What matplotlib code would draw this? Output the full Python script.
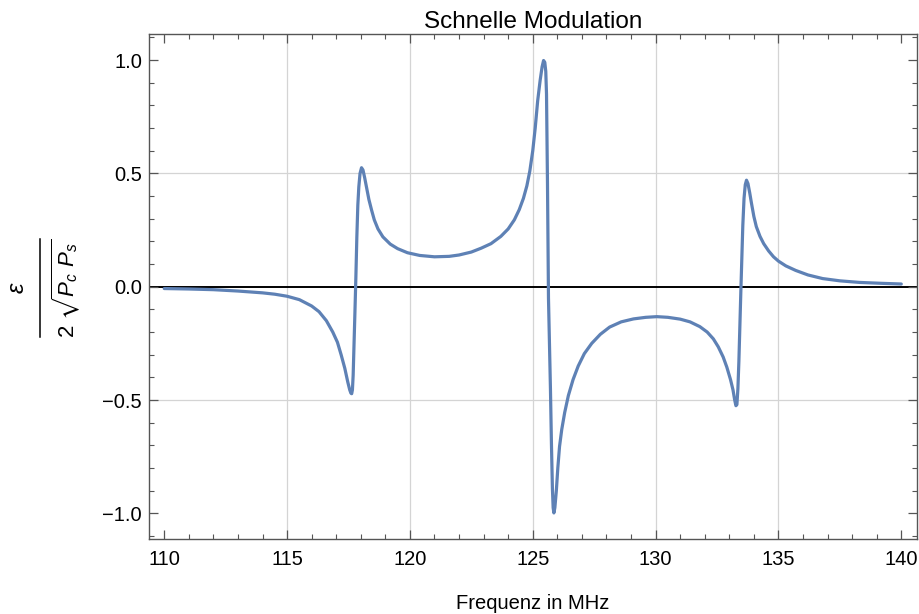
"""
Schnelle Modulation - Fehlersignal ueber der Frequenz
"""
import matplotlib
matplotlib.use('Agg')
import matplotlib.pyplot as plt
from matplotlib.lines import Line2D
from matplotlib.ticker import MultipleLocator, FixedLocator

plt.rcParams['font.family'] = ['Liberation Sans', 'DejaVu Sans']
plt.rcParams['mathtext.fontset'] = 'custom'
plt.rcParams['mathtext.rm'] = 'Liberation Sans'
plt.rcParams['mathtext.it'] = 'Liberation Sans:italic'
plt.rcParams['mathtext.fallback'] = 'stix'

# Werte (Frequenz in MHz, Signal normiert)
freq = [110.0, 111.0, 112.0, 113.0, 114.0, 114.5, 115.0, 115.5, 116.0, 116.3,
        116.6, 116.86, 117.05, 117.2, 117.35, 117.47, 117.55, 117.6, 117.63,
        117.66, 117.69, 117.72, 117.76, 117.8, 117.84, 117.88, 117.92, 117.97,
        118.03, 118.09, 118.16, 118.23, 118.33, 118.44, 118.55, 118.7, 118.9,
        119.2, 119.5, 119.9, 120.4, 121.0, 121.6, 122.0, 122.5, 122.9, 123.3,
        123.7, 124.0, 124.25, 124.45, 124.62, 124.76, 124.88, 125.0, 125.1,
        125.2, 125.3, 125.38, 125.44, 125.49, 125.53, 125.56, 125.6, 125.64,
        125.68, 125.72, 125.76, 125.8, 125.83, 125.86, 125.9, 125.96, 126.02,
        126.09, 126.18, 126.3, 126.45, 126.64, 126.85, 127.1, 127.4, 127.75,
        128.13, 128.6, 129.1, 129.6, 130.05, 130.5, 131.0, 131.4, 131.8, 132.1,
        132.35, 132.55, 132.75, 132.9, 133.05, 133.15, 133.22, 133.27, 133.31,
        133.35, 133.39, 133.43, 133.47, 133.51, 133.55, 133.6, 133.65, 133.7,
        133.76, 133.83, 133.9, 134.0, 134.1, 134.25, 134.4, 134.6, 134.8, 135.0,
        135.3, 135.7, 136.2, 136.8, 137.5, 138.3, 139.2, 140.0]
signal = [-0.008, -0.010, -0.013, -0.019, -0.027, -0.033, -0.042, -0.057, -0.085, -0.11,
          -0.15, -0.20, -0.245, -0.30, -0.36, -0.42, -0.455, -0.47, -0.472,
          -0.455, -0.39, -0.28, -0.12, 0.04, 0.22, 0.36, 0.44, 0.50,
          0.525, 0.515, 0.48, 0.44, 0.385, 0.338, 0.295, 0.255, 0.22,
          0.188, 0.168, 0.15, 0.138, 0.132, 0.134, 0.14, 0.153, 0.17, 0.19,
          0.222, 0.255, 0.295, 0.34, 0.39, 0.445, 0.51, 0.60, 0.70,
          0.82, 0.91, 0.97, 0.998, 0.99, 0.95, 0.85, 0.45, -0.05,
          -0.25, -0.45, -0.69, -0.89, -0.975, -0.998, -0.975, -0.90, -0.80,
          -0.705, -0.63, -0.555, -0.48, -0.41, -0.35, -0.295, -0.25, -0.21,
          -0.178, -0.155, -0.142, -0.135, -0.132, -0.135, -0.143, -0.155, -0.176, -0.20,
          -0.23, -0.265, -0.31, -0.355, -0.41, -0.455, -0.50, -0.525, -0.52,
          -0.45, -0.33, -0.17, -0.02, 0.12, 0.27, 0.39, 0.45, 0.47,
          0.455, 0.415, 0.37, 0.31, 0.265, 0.222, 0.19, 0.158, 0.132, 0.113,
          0.092, 0.072, 0.052, 0.036, 0.026, 0.019, 0.015, 0.012]

x_major = [110, 115, 120, 125, 130, 135, 140]
y_major = [-1.0, -0.5, 0.0, 0.5, 1.0]
y_labels = ['\u22121.0', '\u22120.5', '0.0', '0.5', '1.0']
x_grid = [115, 120, 125, 130, 135]
y_grid = [-0.5, 0.5]

frame_col = '#555555'
W, H = 919, 614

fig = plt.figure(figsize=(W / 100, H / 100), dpi=100)
ax = fig.add_axes([149 / W, 1 - 539 / H, (917 - 149) / W, (539 - 34) / H])

for g in x_grid:
    ax.axvline(g, color='#d4d4d4', linewidth=0.9, zorder=0)
for g in y_grid:
    ax.axhline(g, color='#d4d4d4', linewidth=0.9, zorder=0)
ax.axhline(0, color='black', linewidth=1.4, zorder=1)

ax.plot(freq, signal, color='#5E81B5', linewidth=2.3, solid_joinstyle='round',
        solid_capstyle='round', zorder=2)

ax.set_xlim(109.38, 140.64)
ax.set_ylim(-1.113, 1.115)

ax.xaxis.set_major_locator(FixedLocator(x_major))
ax.yaxis.set_major_locator(FixedLocator(y_major))
ax.xaxis.set_minor_locator(MultipleLocator(1))
ax.yaxis.set_minor_locator(MultipleLocator(0.1))
ax.set_yticklabels(y_labels)

ax.tick_params(which='both', direction='in', top=True, right=True,
               color=frame_col, labelsize=14.5, labelcolor='black')
ax.tick_params(which='major', length=6.5, width=0.9)
ax.tick_params(which='minor', length=3.6, width=0.8)
ax.tick_params(axis='x', pad=8)
ax.tick_params(axis='y', pad=5)
for s in ax.spines.values():
    s.set_color(frame_col)
    s.set_linewidth(1.0)

ax.set_title('Schnelle Modulation', fontsize=17.5, pad=4)
ax.set_xlabel('Frequenz in MHz', fontsize=14.5, labelpad=18)

# y-Beschriftung als Bruch, wie im Original gesetzt
yc = 1 - 288 / H
fig.text(18 / W, yc, r'$\varepsilon$', rotation=90, fontsize=17,
         ha='center', va='center')
fig.add_artist(Line2D([40 / W, 40 / W], [1 - 239 / H, 1 - 337 / H],
                      color='black', linewidth=1.1))
fig.text(66 / W, yc, r'$2\ \sqrt{P_c\ P_s}$', rotation=90, fontsize=16,
         ha='center', va='center')

plt.savefig('out.png', dpi=100)
